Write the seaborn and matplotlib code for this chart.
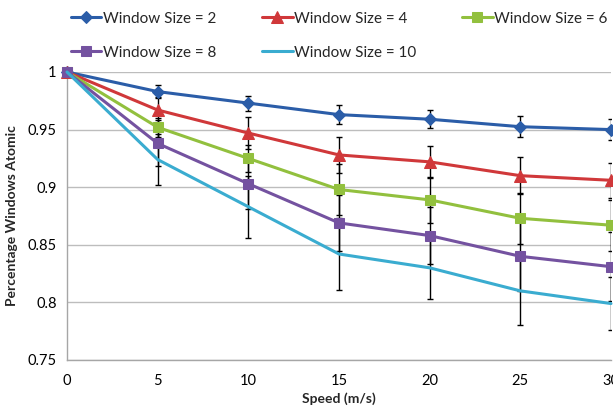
import numpy as np
import pandas as pd
import matplotlib
matplotlib.use("Agg")
import matplotlib.pyplot as plt
import seaborn as sns

speed = [0, 5, 10, 15, 20, 25, 30]
w2 = [1.0, 0.983, 0.973, 0.963, 0.959, 0.9525, 0.950]
w4 = [1.0, 0.967, 0.947, 0.928, 0.922, 0.910, 0.906]
w6 = [1.0, 0.952, 0.925, 0.898, 0.889, 0.873, 0.867]
w8 = [1.0, 0.938, 0.903, 0.869, 0.858, 0.840, 0.831]
w10 = [1.0, 0.924, 0.883, 0.842, 0.830, 0.810, 0.799]

e2 = [0, 0.0055, 0.0065, 0.0085, 0.008, 0.009, 0.009]
e4 = [0, 0.011, 0.014, 0.016, 0.014, 0.016, 0.015]
e6 = [0, 0.008, 0.012, 0.022, 0.020, 0.022, 0.022]
e8 = [0, 0.020, 0.022, 0.024, 0.025, 0.030, 0.030]
e10 = [0, 0.022, 0.027, 0.031, 0.027, 0.030, 0.023]

labels = ["Window Size = 2", "Window Size = 4", "Window Size = 6",
          "Window Size = 8", "Window Size = 10"]
values = [w2, w4, w6, w8, w10]
errors = [e2, e4, e6, e8, e10]
colors = ["#2B5DA8", "#D0383A", "#92C03E", "#7452A0", "#3AACD0"]
markers = ["D", "^", "s", "s", ""]
msizes = [6.5, 8, 7.5, 7.5, 0]

rows = []
for lab, vals in zip(labels, values):
    for s, v in zip(speed, vals):
        rows.append({"speed": s, "value": v, "series": lab})
df = pd.DataFrame(rows)

sns.set_theme(style="white")
plt.rcParams["font.family"] = ["Lato", "DejaVu Sans"]

fig = plt.figure(figsize=(6.13, 4.07), dpi=100)
ax = fig.add_axes([0.1093, 0.1155, 0.8874, 0.7076])

for lab, vals, errs in zip(labels, values, errors):
    ax.errorbar(speed, vals, yerr=errs, fmt="none", ecolor="black",
                elinewidth=1.0, capsize=2.5, capthick=1.0, zorder=2)

for lab, c, m, ms in zip(labels, colors, markers, msizes):
    sub = df[df["series"] == lab]
    sns.lineplot(data=sub, x="speed", y="value", ax=ax, color=c,
                 marker=m if m else None, markersize=ms, markeredgecolor=c,
                 linewidth=2.2, label=lab, zorder=3, clip_on=False)

ax.set_xlim(0, 30)
ax.set_ylim(0.75, 1.0)
ax.set_xticks([0, 5, 10, 15, 20, 25, 30])
ax.set_xticklabels(["0", "5", "10", "15", "20", "25", "30"])
ax.set_yticks([0.75, 0.8, 0.85, 0.9, 0.95, 1.0])
ax.set_yticklabels(["0.75", "0.8", "0.85", "0.9", "0.95", "1"])
ax.yaxis.grid(True, color="#BDBDBD", linewidth=1.0)
ax.xaxis.grid(False)
for side in ["top", "right"]:
    ax.spines[side].set_visible(False)
for side in ["left", "bottom"]:
    ax.spines[side].set_color("#A6A6A6")
    ax.spines[side].set_linewidth(1.0)
ax.tick_params(axis="both", which="major", direction="out", length=4,
               color="#A6A6A6", labelsize=10.5, labelcolor="black")
ax.tick_params(axis="x", pad=6)
ax.set_xlabel("Speed (m/s)", fontsize=10, fontweight="bold", labelpad=3)
ax.set_ylabel("Percentage Windows Atomic", fontsize=10, fontweight="bold", labelpad=7)

handles, labs = ax.get_legend_handles_labels()
ax.get_legend().remove()
order = [0, 3, 1, 4, 2]
fig.legend([handles[i] for i in order], [labs[i] for i in order],
           loc="upper left", bbox_to_anchor=(0.093, 1.005), ncol=3,
           frameon=False, fontsize=11, handlelength=2.0, handletextpad=0.1,
           columnspacing=3.0, labelspacing=1.3)

fig.savefig("out.png", dpi=100)
